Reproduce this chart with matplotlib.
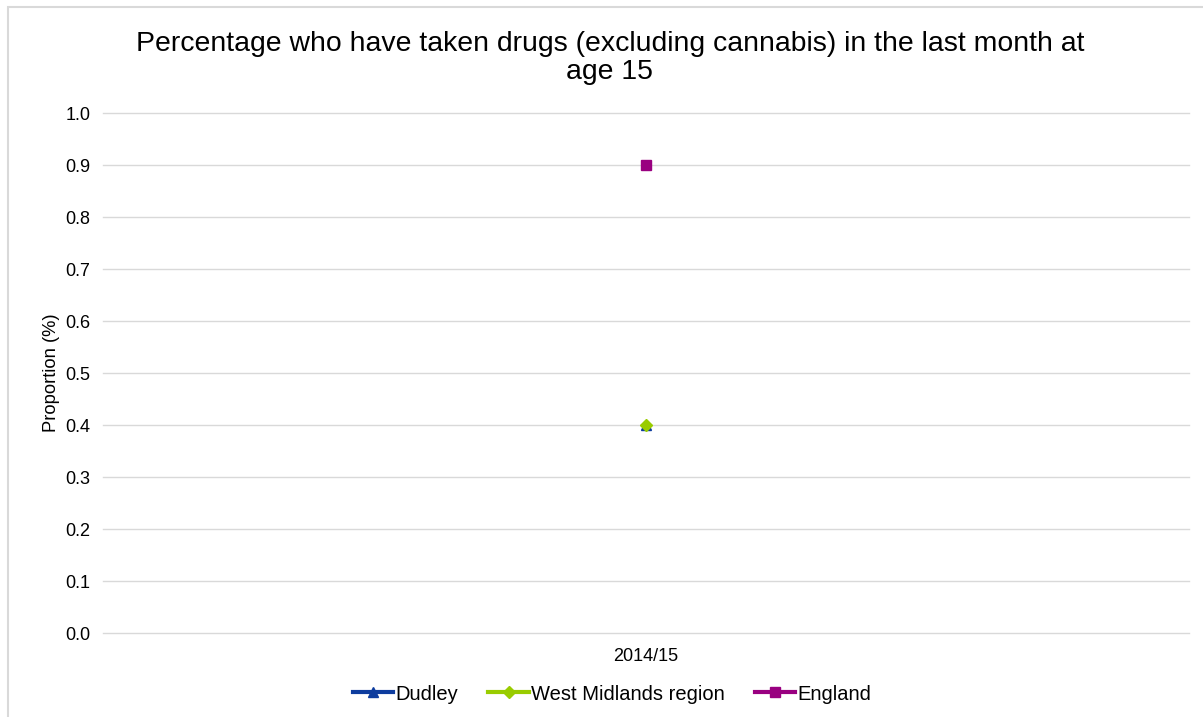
import matplotlib
matplotlib.use("Agg")
import matplotlib.pyplot as plt
from matplotlib.patches import Rectangle

plt.rcParams['font.family'] = ['Liberation Sans', 'DejaVu Sans']

categories = ["2014/15"]
dudley = [0.4]
west_midlands = [0.4]
england = [0.9]

series = [
    ("Dudley", dudley, "#0d3c9e", "^", 7),
    ("West Midlands region", west_midlands, "#99cc00", "D", 6),
    ("England", england, "#990080", "s", 7.5),
]

fig = plt.figure(figsize=(12.03, 7.17), dpi=100)
ax = fig.add_axes([103/1203, 1 - 633/717, (1189 - 103)/1203, (633 - 113)/717])

# outer chart frame (runs off the right and bottom edges)
top = 1 - 7/717
fig.patches.append(Rectangle((8/1203, -0.2), 1.2, top + 0.2, transform=fig.transFigure,
                             fill=False, edgecolor="#d9d9d9", linewidth=1.5))

x = list(range(len(categories)))
for name, vals, color, marker, ms in series:
    ax.plot(x, vals, color=color, marker=marker, markersize=ms, linewidth=3,
            label=name, markeredgecolor=color, zorder=3)

ax.set_xlim(-0.5, len(categories) - 0.5)
ax.set_ylim(0, 1.0)
ax.set_yticks([i / 10 for i in range(11)])
ax.set_yticklabels([f"{i/10:.1f}" for i in range(11)], fontsize=13)
ax.set_xticks(x)
ax.set_xticklabels(categories, fontsize=13)
ax.tick_params(axis="y", length=0, pad=9)
ax.tick_params(axis="x", length=0, pad=11)
ax.grid(axis="y", color="#d9d9d9", linewidth=1)
for gl in ax.get_ygridlines():
    gl.set_clip_on(False)
ax.set_axisbelow(True)
for s in ax.spines.values():
    s.set_visible(False)
ax.set_ylabel("Proportion (%)", fontsize=13.2, labelpad=4)

fig.text(0.507, 1 - 58/717, "Percentage who have taken drugs (excluding cannabis) in the last month at\nage 15",
         ha="center", va="center", fontsize=20.4, linespacing=1.12)

fig.legend(loc="center", bbox_to_anchor=(612/1203, 1 - 694/717), ncol=3, frameon=False,
           fontsize=14.5, handlelength=2.0, handletextpad=0.1, columnspacing=1.5)

fig.savefig("out.png", dpi=100, facecolor="white")
